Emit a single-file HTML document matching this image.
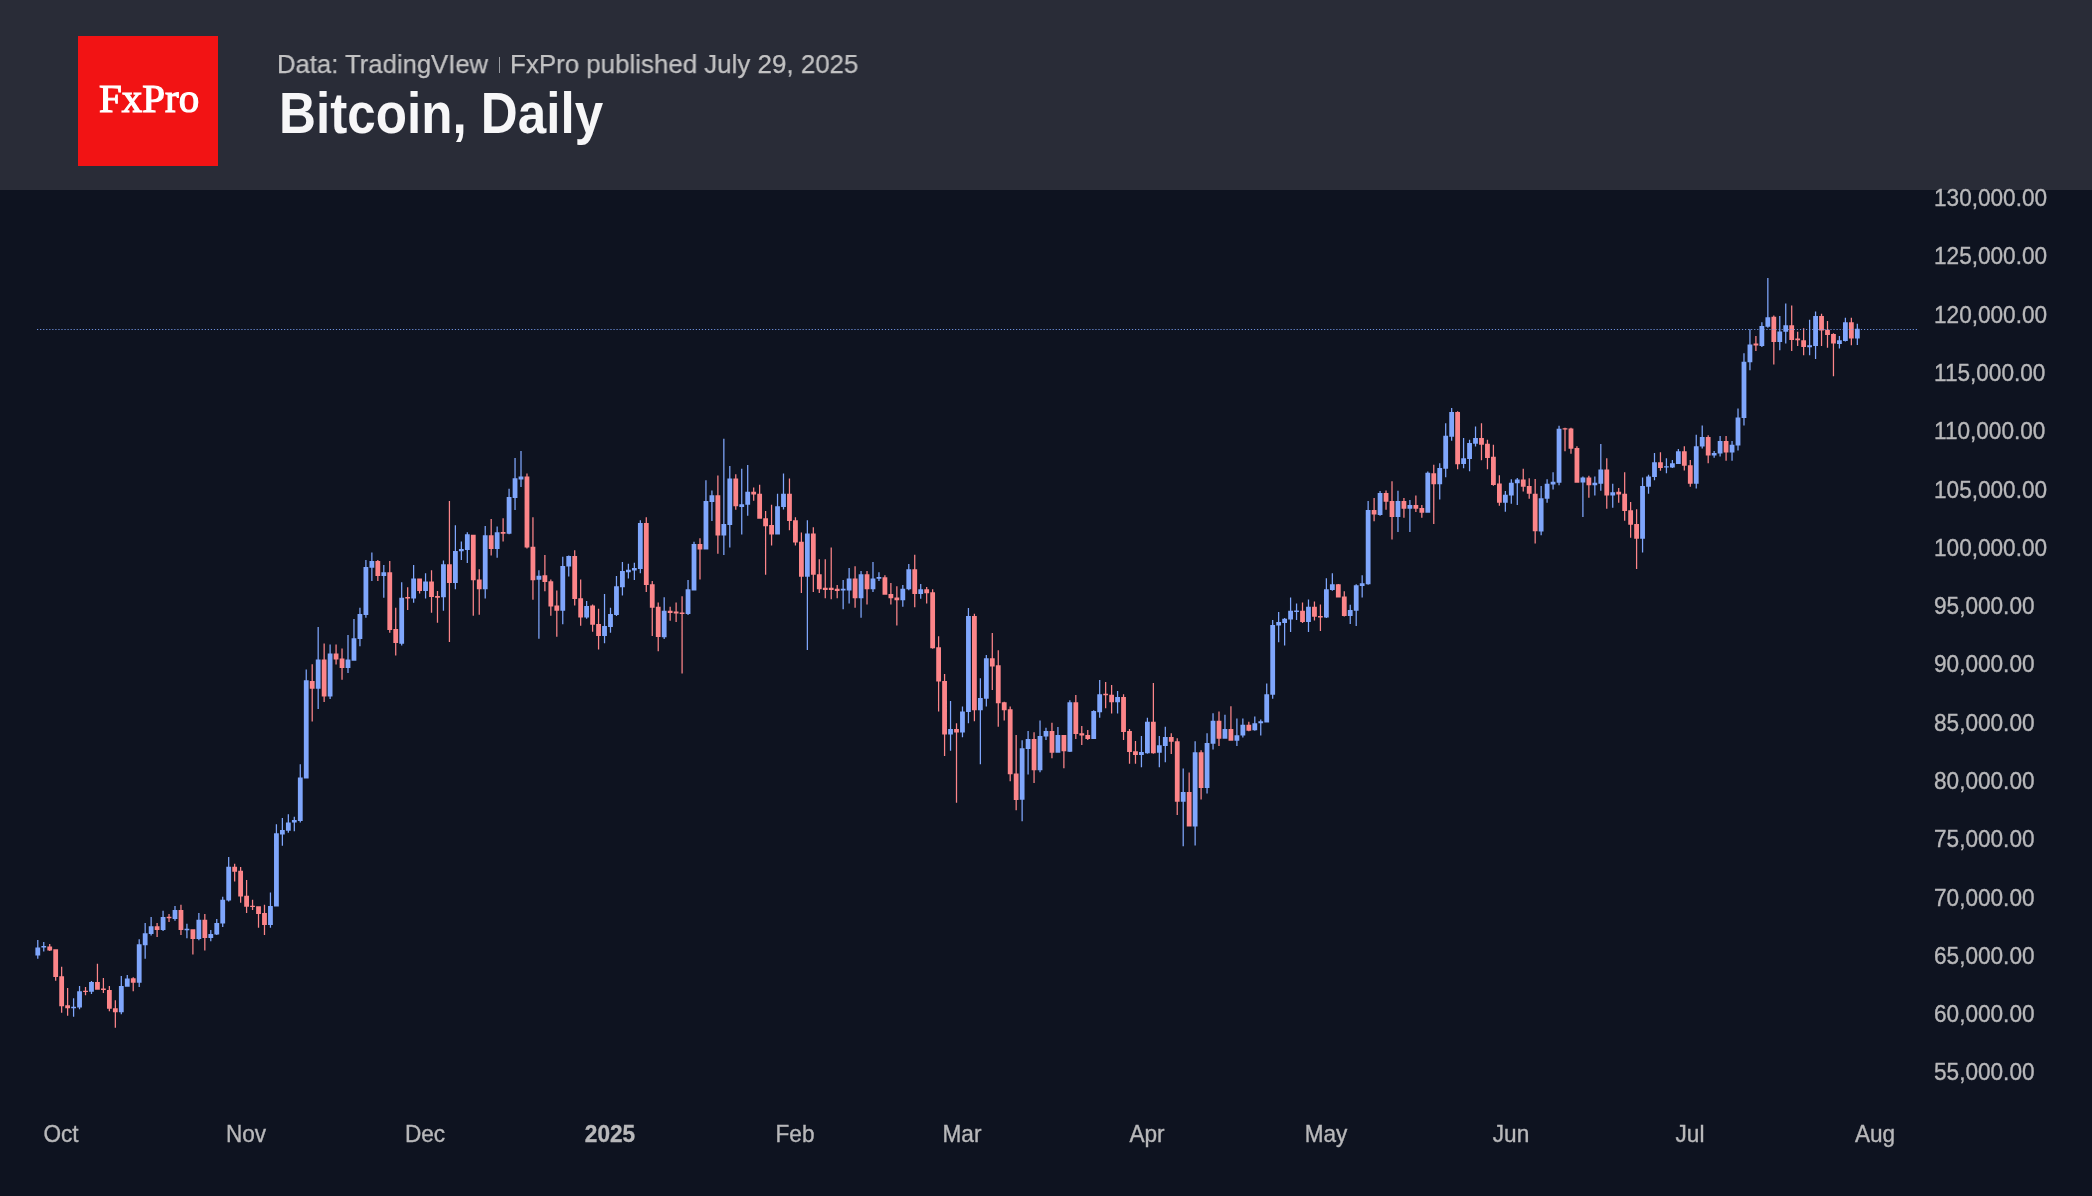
<!DOCTYPE html>
<html><head><meta charset="utf-8">
<style>
html,body{margin:0;padding:0;}
body{width:2092px;height:1196px;background:#0e1320;position:relative;overflow:hidden;font-family:"Liberation Sans",sans-serif;}
.hdr{position:absolute;left:0;top:0;width:2092px;height:189.5px;background:#292c37;}
.logo{position:absolute;left:78px;top:36px;width:140px;height:129.5px;background:#f21314;}
.logo span{position:absolute;left:21.3px;top:36.6px;line-height:50px;color:#fff;font-family:"Liberation Serif",serif;font-weight:normal;font-size:41px;letter-spacing:0px;white-space:nowrap;-webkit-text-stroke:1.2px #fff;will-change:transform;}
.sub{position:absolute;top:47px;font-size:26px;line-height:34px;color:#c2c2c3;white-space:nowrap;transform-origin:0 0;will-change:transform;-webkit-text-stroke:0.25px #c2c2c3;}
.sep{position:absolute;left:499px;top:56.5px;width:1.2px;height:16px;background:#9a9ca2;}
.ttl{position:absolute;left:278.8px;top:78px;font-size:57.3px;line-height:70px;color:#f7f7f8;font-weight:bold;white-space:nowrap;transform:scaleX(0.893);transform-origin:0 0;}
.pl{position:absolute;left:1934px;font-size:22.6px;line-height:26px;color:#b8b8ba;white-space:nowrap;transform:scaleY(1.07);will-change:transform;-webkit-text-stroke:0.35px #b8b8ba;}
.tl{position:absolute;top:1121.5px;width:120px;text-align:center;font-size:22.6px;line-height:26px;color:#b8b8ba;transform:scaleY(1.05);will-change:transform;-webkit-text-stroke:0.35px #b8b8ba;}
.tl.b{font-weight:bold;}
svg{position:absolute;left:0;top:0;}
</style></head><body>
<svg width="2092" height="1196">
<path fill="#7fa6fc" d="M35.39 947.59H40.19V955.62H35.39ZM37.16 940.07H38.41V947.79H37.16ZM37.16 955.42H38.41V958.63H37.16ZM41.35 946.09H46.15V947.49H41.35ZM43.13 942.07H44.38V946.29H43.13ZM43.13 947.29H44.38V951.61H43.13ZM71.18 1006.79H75.98V1008.29H71.18ZM72.96 998.26H74.21V1006.99H72.96ZM72.96 1008.09H74.21V1016.82H72.96ZM77.15 991.24H81.95V1007.49H77.15ZM78.92 986.02H80.17V991.44H78.92ZM78.92 1007.29H80.17V1009.30H78.92ZM89.08 982.01H93.88V991.74H89.08ZM90.85 981.00H92.10V982.21H90.85ZM90.85 991.54H92.10V994.05H90.85ZM118.91 986.02H123.71V1012.31H118.91ZM120.68 975.99H121.93V986.22H120.68ZM120.68 1012.11H121.93V1014.31H120.68ZM124.87 978.39H129.67V986.72H124.87ZM126.65 974.98H127.90V978.59H126.65ZM136.80 944.31H141.60V982.84H136.80ZM138.58 939.36H139.83V944.51H138.58ZM138.58 982.64H139.83V987.12H138.58ZM142.77 933.21H147.57V945.25H142.77ZM144.54 922.91H145.79V933.41H144.54ZM144.54 945.05H145.79V958.63H144.54ZM148.74 926.25H153.54V934.01H148.74ZM150.51 916.89H151.76V926.45H150.51ZM150.51 933.81H151.76V935.62H150.51ZM160.67 916.89H165.47V930.00H160.67ZM162.44 910.87H163.69V917.09H162.44ZM162.44 929.80H163.69V930.94H162.44ZM172.60 909.93H177.40V918.90H172.60ZM174.37 905.92H175.62V910.13H174.37ZM174.37 918.70H175.62V920.64H174.37ZM184.53 928.76H189.33V930.16H184.53ZM186.30 923.85H187.55V928.96H186.30ZM186.30 929.96H187.55V938.29H186.30ZM196.46 919.83H201.26V938.96H196.46ZM198.24 912.88H199.49V920.03H198.24ZM198.24 938.76H199.49V940.30H198.24ZM208.39 934.01H213.19V938.03H208.39ZM210.17 930.00H211.42V934.21H210.17ZM210.17 937.83H211.42V941.24H210.17ZM214.36 922.91H219.16V934.55H214.36ZM216.13 918.90H217.38V923.11H216.13ZM216.13 934.35H217.38V934.95H216.13ZM220.32 899.77H225.12V923.58H220.32ZM222.10 896.82H223.35V899.97H222.10ZM222.10 923.38H223.35V926.92H222.10ZM226.29 866.72H231.09V900.57H226.29ZM228.06 856.96H229.31V866.92H228.06ZM228.06 900.37H229.31V901.51H228.06ZM268.05 905.92H272.85V924.92H268.05ZM269.82 892.54H271.07V906.12H269.82ZM269.82 924.72H271.07V927.86H269.82ZM274.02 833.14H278.82V906.39H274.02ZM275.79 824.36H277.04V833.34H275.79ZM279.98 829.88H284.78V834.40H279.98ZM281.76 818.09H283.01V830.08H281.76ZM281.76 834.20H283.01V845.69H281.76ZM285.95 822.61H290.75V830.64H285.95ZM287.72 814.33H288.97V822.81H287.72ZM287.72 830.44H288.97V832.64H287.72ZM291.91 820.10H296.71V822.61H291.91ZM293.69 816.84H294.94V820.30H293.69ZM293.69 822.41H294.94V831.14H293.69ZM297.88 777.46H302.68V821.10H297.88ZM299.65 764.16H300.90V777.66H299.65ZM299.65 820.90H300.90V822.61H299.65ZM303.84 680.13H308.64V778.46H303.84ZM305.62 669.60H306.87V680.33H305.62ZM315.78 659.60H320.58V688.86H315.78ZM317.55 626.99H318.80V659.80H317.55ZM317.55 688.66H318.80V708.93H317.55ZM327.71 653.41H332.51V696.39H327.71ZM329.48 644.55H330.73V653.61H329.48ZM329.48 696.19H330.73V698.90H329.48ZM345.60 659.60H350.40V667.96H345.60ZM347.38 635.02H348.63V659.80H347.38ZM347.38 667.76H348.63V672.98H347.38ZM351.57 638.36H356.37V660.77H351.57ZM353.34 618.96H354.59V638.56H353.34ZM357.54 613.95H362.33V639.03H357.54ZM359.31 607.76H360.56V614.15H359.31ZM359.31 638.83H360.56V646.22H359.31ZM363.50 567.12H368.30V614.95H363.50ZM365.28 560.10H366.53V567.32H365.28ZM365.28 614.75H366.53V617.79H365.28ZM369.47 560.94H374.27V567.63H369.47ZM371.24 552.58H372.49V561.14H371.24ZM371.24 567.43H372.49V581.00H371.24ZM381.40 572.14H386.20V575.99H381.40ZM383.17 565.12H384.42V572.34H383.17ZM383.17 575.79H384.42V597.73H383.17ZM399.29 597.73H404.09V643.71H399.29ZM401.07 582.17H402.32V597.93H401.07ZM401.07 643.51H402.32V645.38H401.07ZM411.23 578.49H416.03V598.56H411.23ZM413.00 565.12H414.25V578.69H413.00ZM413.00 598.36H414.25V602.74H413.00ZM423.16 581.51H427.96V591.04H423.16ZM424.93 573.14H426.18V581.71H424.93ZM424.93 590.84H426.18V598.56H424.93ZM441.05 564.16H445.85V597.27H441.05ZM442.83 560.48H444.08V564.36H442.83ZM442.83 597.07H444.08V610.70H442.83ZM452.99 550.92H457.79V583.11H452.99ZM454.76 525.17H456.01V551.12H454.76ZM454.76 582.91H456.01V589.36H454.76ZM458.95 548.90H463.75V551.29H458.95ZM460.73 541.54H461.98V549.10H460.73ZM460.73 551.09H461.98V559.93H460.73ZM464.92 534.18H469.72V550.00H464.92ZM466.69 532.34H467.94V534.38H466.69ZM466.69 549.80H467.94V562.88H466.69ZM482.81 535.28H487.61V589.36H482.81ZM484.59 526.09H485.84V535.48H484.59ZM484.59 589.16H485.84V598.56H484.59ZM494.75 532.34H499.55V548.90H494.75ZM496.52 526.45H497.77V532.54H496.52ZM496.52 548.70H497.77V557.73H496.52ZM506.68 497.02H511.48V533.81H506.68ZM508.45 488.75H509.70V497.22H508.45ZM508.45 533.61H509.70V534.18H508.45ZM512.64 478.26H517.44V497.94H512.64ZM514.42 458.03H515.67V478.46H514.42ZM514.42 497.74H515.67V509.90H514.42ZM518.61 476.42H523.41V479.55H518.61ZM520.38 451.04H521.63V476.62H520.38ZM520.38 479.35H521.63V486.91H520.38ZM536.51 575.75H541.31V579.80H536.51ZM538.28 570.23H539.53V575.95H538.28ZM538.28 579.60H539.53V638.66H538.28ZM560.37 566.00H565.17V610.70H560.37ZM562.14 556.81H563.39V566.20H562.14ZM562.14 610.50H563.39V624.31H562.14ZM566.33 555.89H571.13V566.56H566.33ZM568.11 555.52H569.36V556.09H568.11ZM568.11 566.36H569.36V576.49H568.11ZM584.23 605.92H589.03V617.51H584.23ZM586.01 600.95H587.26V606.12H586.01ZM586.01 617.31H587.26V618.80H586.01ZM602.13 626.07H606.93V635.89H602.13ZM603.90 594.09H605.15V626.27H603.90ZM603.90 635.69H605.15V643.21H603.90ZM608.09 613.95H612.89V626.91H608.09ZM609.87 607.68H611.12V614.15H609.87ZM609.87 626.71H611.12V632.76H609.87ZM614.06 586.35H618.86V614.99H614.06ZM615.84 575.90H617.09V586.55H615.84ZM615.84 614.79H617.09V616.04H615.84ZM620.03 571.10H624.83V587.19H620.03ZM621.80 562.11H623.05V571.30H621.80ZM621.80 586.99H623.05V595.55H621.80ZM625.99 569.63H630.79V572.14H625.99ZM627.77 563.78H629.02V569.83H627.77ZM627.77 571.94H629.02V578.41H627.77ZM631.96 567.96H636.76V570.47H631.96ZM633.73 562.73H634.98V568.16H633.73ZM633.73 570.27H634.98V580.08H633.73ZM637.92 523.02H642.72V569.01H637.92ZM639.70 520.30H640.95V523.22H639.70ZM639.70 568.81H640.95V573.19H639.70ZM661.79 610.81H666.59V637.36H661.79ZM663.56 597.22H664.81V611.01H663.56ZM663.56 637.16H664.81V639.03H663.56ZM685.65 589.28H690.45V613.95H685.65ZM687.42 580.08H688.67V589.48H687.42ZM687.42 613.75H688.67V614.99H687.42ZM691.61 543.92H696.41V590.54H691.61ZM693.39 541.83H694.64V544.12H693.39ZM703.55 501.07H708.35V549.57H703.55ZM705.32 480.17H706.57V501.27H705.32ZM709.51 495.22H714.31V502.12H709.51ZM711.29 490.62H712.54V495.42H711.29ZM711.29 501.92H712.54V520.93H711.29ZM721.44 524.06H726.24V535.56H721.44ZM723.22 438.78H724.47V524.26H723.22ZM723.22 535.36H724.47V555.00H723.22ZM727.41 478.49H732.21V525.11H727.41ZM729.18 465.95H730.43V478.69H729.18ZM729.18 524.91H730.43V547.47H729.18ZM739.34 504.21H744.14V506.92H739.34ZM741.11 468.67H742.36V504.41H741.11ZM741.11 506.72H742.36V534.52H741.11ZM745.31 491.66H750.11V504.83H745.31ZM747.08 465.12H748.33V491.86H747.08ZM747.08 504.63H748.33V515.70H747.08ZM775.13 506.30H779.93V534.52H775.13ZM776.91 493.75H778.16V506.50H776.91ZM781.10 493.75H785.90V506.92H781.10ZM782.87 473.48H784.12V493.95H782.87ZM782.87 506.72H784.12V509.43H782.87ZM804.96 533.47H809.76V576.74H804.96ZM806.74 520.30H807.99V533.67H806.74ZM806.74 576.54H807.99V649.90H806.74ZM840.76 588.86H845.56V590.54H840.76ZM842.53 580.08H843.78V589.06H842.53ZM842.53 590.34H843.78V609.35H842.53ZM846.72 578.41H851.52V590.54H846.72ZM848.50 567.96H849.75V578.61H848.50ZM848.50 590.34H849.75V603.49H848.50ZM858.65 574.23H863.45V598.27H858.65ZM860.43 571.10H861.68V574.43H860.43ZM860.43 598.07H861.68V617.71H860.43ZM870.59 578.41H875.39V589.28H870.59ZM872.36 562.11H873.61V578.61H872.36ZM872.36 589.08H873.61V592.00H872.36ZM876.55 576.95H881.35V578.83H876.55ZM878.33 572.14H879.58V577.15H878.33ZM878.33 578.63H879.58V580.92H878.33ZM900.41 588.63H905.21V600.33H900.41ZM902.19 585.12H903.44V588.83H902.19ZM902.19 600.13H903.44V606.66H902.19ZM906.38 569.20H911.18V589.33H906.38ZM908.15 564.05H909.40V569.40H908.15ZM908.15 589.13H909.40V590.27H908.15ZM918.31 589.33H923.11V594.01H918.31ZM920.09 583.95H921.34V589.53H920.09ZM920.09 593.81H921.34V598.70H920.09ZM948.14 729.10H952.94V734.48H948.14ZM949.91 701.00H951.16V729.30H949.91ZM949.91 734.28H951.16V750.87H949.91ZM960.07 711.54H964.87V732.61H960.07ZM961.85 706.39H963.10V711.74H961.85ZM961.85 732.41H963.10V737.29H961.85ZM966.04 616.02H970.84V712.01H966.04ZM967.81 608.06H969.06V616.22H967.81ZM967.81 711.81H969.06V723.24H967.81ZM977.97 697.96H982.77V710.37H977.97ZM979.74 678.29H980.99V698.16H979.74ZM979.74 710.17H980.99V764.21H979.74ZM983.93 658.16H988.73V698.66H983.93ZM985.71 654.88H986.96V658.36H985.71ZM985.71 698.46H986.96V706.39H985.71ZM1019.73 748.29H1024.53V799.63H1019.73ZM1021.50 740.27H1022.75V748.49H1021.50ZM1021.50 799.43H1022.75V821.37H1021.50ZM1025.69 738.93H1030.49V748.96H1025.69ZM1027.47 731.07H1028.72V739.13H1027.47ZM1027.47 748.76H1028.72V774.55H1027.47ZM1037.62 736.09H1042.42V770.37H1037.62ZM1039.40 720.54H1040.65V736.29H1039.40ZM1039.40 770.17H1040.65V772.37H1039.40ZM1043.59 731.07H1048.39V736.59H1043.59ZM1045.37 727.73H1046.62V731.27H1045.37ZM1045.37 736.39H1046.62V739.93H1045.37ZM1055.52 734.92H1060.32V752.81H1055.52ZM1057.30 726.89H1058.55V735.12H1057.30ZM1067.45 702.14H1072.25V751.64H1067.45ZM1069.23 700.13H1070.48V702.34H1069.23ZM1069.23 751.44H1070.48V751.97H1069.23ZM1091.32 711.00H1096.12V738.93H1091.32ZM1093.09 710.17H1094.34V711.20H1093.09ZM1097.28 694.28H1102.08V712.17H1097.28ZM1099.06 680.07H1100.31V694.48H1099.06ZM1099.06 711.97H1100.31V717.69H1099.06ZM1115.18 697.12H1119.98V702.14H1115.18ZM1116.95 690.94H1118.20V697.32H1116.95ZM1116.95 701.94H1118.20V713.51H1116.95ZM1139.04 751.97H1143.84V754.98H1139.04ZM1140.82 736.09H1142.07V752.17H1140.82ZM1140.82 754.78H1142.07V767.36H1140.82ZM1145.01 721.87H1149.81V753.31H1145.01ZM1146.78 717.69H1148.03V722.07H1146.78ZM1146.78 753.11H1148.03V753.65H1146.78ZM1156.94 745.28H1161.74V752.81H1156.94ZM1158.71 736.09H1159.96V745.48H1158.71ZM1158.71 752.61H1159.96V767.36H1158.71ZM1162.90 737.04H1167.70V745.94H1162.90ZM1164.68 726.87H1165.93V737.24H1164.68ZM1164.68 745.74H1165.93V762.14H1164.68ZM1180.80 792.01H1185.60V801.86H1180.80ZM1182.58 768.49H1183.83V792.21H1182.58ZM1182.58 801.66H1183.83V846.34H1182.58ZM1192.73 752.29H1197.53V826.48H1192.73ZM1194.51 741.17H1195.76V752.49H1194.51ZM1194.51 826.28H1195.76V845.54H1194.51ZM1204.66 743.08H1209.46V787.88H1204.66ZM1206.44 733.23H1207.69V743.28H1206.44ZM1206.44 787.68H1207.69V793.60H1206.44ZM1210.63 720.84H1215.43V743.87H1210.63ZM1212.41 713.21H1213.66V721.04H1212.41ZM1212.41 743.67H1213.66V749.43H1212.41ZM1222.56 729.10H1227.36V738.63H1222.56ZM1224.34 714.80H1225.59V729.30H1224.34ZM1234.49 735.13H1239.29V740.69H1234.49ZM1236.27 718.45H1237.52V735.33H1236.27ZM1236.27 740.49H1237.52V745.94H1236.27ZM1240.46 724.81H1245.26V735.45H1240.46ZM1242.23 718.45H1243.48V725.01H1242.23ZM1242.23 735.25H1243.48V737.52H1242.23ZM1252.39 723.22H1257.19V730.37H1252.39ZM1254.17 716.39H1255.42V723.42H1254.17ZM1254.17 730.17H1255.42V730.69H1254.17ZM1258.36 721.15H1263.16V723.22H1258.36ZM1260.13 719.57H1261.38V721.35H1260.13ZM1260.13 723.02H1261.38V735.45H1260.13ZM1264.32 694.15H1269.12V722.42H1264.32ZM1266.10 683.50H1267.35V694.35H1266.10ZM1270.29 624.88H1275.09V694.72H1270.29ZM1272.06 620.07H1273.31V625.08H1272.06ZM1272.06 694.52H1273.31V698.73H1272.06ZM1276.25 622.07H1281.05V625.48H1276.25ZM1278.03 612.04H1279.28V622.27H1278.03ZM1278.03 625.28H1279.28V642.14H1278.03ZM1282.22 618.86H1287.02V622.88H1282.22ZM1283.99 618.06H1285.24V619.06H1283.99ZM1283.99 622.68H1285.24V645.55H1283.99ZM1288.18 610.84H1292.98V619.46H1288.18ZM1289.96 597.39H1291.21V611.04H1289.96ZM1289.96 619.26H1291.21V632.11H1289.96ZM1294.15 610.43H1298.95V612.04H1294.15ZM1295.92 603.41H1297.17V610.63H1295.92ZM1295.92 611.84H1297.17V620.07H1295.92ZM1306.08 606.82H1310.88V622.07H1306.08ZM1307.86 599.40H1309.11V607.02H1307.86ZM1307.86 621.87H1309.11V632.11H1307.86ZM1323.98 589.36H1328.78V617.46H1323.98ZM1325.75 578.33H1327.00V589.56H1325.75ZM1325.75 617.26H1327.00V618.06H1325.75ZM1329.94 584.35H1334.74V589.97H1329.94ZM1331.72 573.31H1332.97V584.55H1331.72ZM1331.72 589.77H1332.97V590.77H1331.72ZM1347.84 610.03H1352.64V616.05H1347.84ZM1349.62 604.82H1350.87V610.23H1349.62ZM1349.62 615.85H1350.87V624.08H1349.62ZM1353.81 585.35H1358.61V610.84H1353.81ZM1355.58 584.35H1356.83V585.55H1355.58ZM1355.58 610.64H1356.83V626.09H1355.58ZM1359.77 583.34H1364.57V585.95H1359.77ZM1361.55 575.32H1362.80V583.54H1361.55ZM1361.55 585.75H1362.80V597.39H1361.55ZM1365.74 510.10H1370.54V584.35H1365.74ZM1367.51 501.07H1368.76V510.30H1367.51ZM1367.51 584.15H1368.76V584.75H1367.51ZM1377.67 493.04H1382.47V515.12H1377.67ZM1379.44 491.04H1380.69V493.24H1379.44ZM1379.44 514.92H1380.69V515.72H1379.44ZM1395.57 500.95H1400.37V517.01H1395.57ZM1397.34 490.65H1398.59V501.15H1397.34ZM1397.34 516.81H1398.59V532.12H1397.34ZM1407.50 504.97H1412.30V508.71H1407.50ZM1409.27 500.02H1410.52V505.17H1409.27ZM1409.27 508.51H1410.52V532.12H1409.27ZM1425.40 472.86H1430.20V512.73H1425.40ZM1427.17 471.52H1428.42V473.06H1427.17ZM1437.33 467.91H1442.13V484.36H1437.33ZM1439.10 463.23H1440.35V468.11H1439.10ZM1439.10 484.16H1440.35V499.62H1439.10ZM1443.29 435.80H1448.09V468.85H1443.29ZM1445.07 423.36H1446.32V436.00H1445.07ZM1445.07 468.65H1446.32V477.27H1445.07ZM1449.26 412.12H1454.06V436.74H1449.26ZM1451.03 408.11H1452.28V412.32H1451.03ZM1451.03 436.54H1452.28V440.75H1451.03ZM1461.19 458.14H1465.99V463.90H1461.19ZM1462.96 438.08H1464.21V458.34H1462.96ZM1462.96 463.70H1464.21V468.31H1462.96ZM1467.16 442.89H1471.96V458.95H1467.16ZM1468.93 439.82H1470.18V443.09H1468.93ZM1468.93 458.75H1470.18V471.25H1468.93ZM1473.12 438.08H1477.92V443.83H1473.12ZM1474.90 426.44H1476.15V438.28H1474.90ZM1474.90 443.63H1476.15V446.51H1474.90ZM1502.95 494.67H1507.75V502.69H1502.95ZM1504.72 491.05H1505.97V494.87H1504.72ZM1504.72 502.49H1505.97V511.66H1504.72ZM1508.92 482.63H1513.72V495.60H1508.92ZM1510.69 479.28H1511.94V482.83H1510.69ZM1510.69 495.40H1511.94V503.63H1510.69ZM1514.88 479.55H1519.68V483.29H1514.88ZM1516.66 477.94H1517.91V479.75H1516.66ZM1516.66 483.09H1517.91V504.97H1516.66ZM1538.74 498.13H1543.54V531.53H1538.74ZM1540.52 486.05H1541.77V498.33H1540.52ZM1540.52 531.33H1541.77V535.37H1540.52ZM1544.71 483.63H1549.51V498.84H1544.71ZM1546.48 479.36H1547.73V483.83H1546.48ZM1546.48 498.64H1547.73V502.68H1546.48ZM1550.67 481.78H1555.48V484.62H1550.67ZM1552.45 472.26H1553.70V481.98H1552.45ZM1552.45 484.42H1553.70V489.60H1552.45ZM1556.64 428.76H1561.44V482.78H1556.64ZM1558.42 425.64H1559.67V428.96H1558.42ZM1558.42 482.58H1559.67V485.33H1558.42ZM1580.50 477.52H1585.30V482.49H1580.50ZM1582.28 476.52H1583.53V477.72H1582.28ZM1582.28 482.29H1583.53V516.89H1582.28ZM1592.43 482.78H1597.23V485.33H1592.43ZM1594.21 476.52H1595.46V482.98H1594.21ZM1594.21 485.13H1595.46V495.57H1594.21ZM1598.40 469.41H1603.20V483.63H1598.40ZM1600.18 444.11H1601.43V469.61H1600.18ZM1600.18 483.43H1601.43V490.74H1600.18ZM1610.33 492.16H1615.13V495.57H1610.33ZM1612.11 483.63H1613.36V492.36H1612.11ZM1612.11 495.37H1613.36V507.79H1612.11ZM1640.16 486.05H1644.96V538.64H1640.16ZM1641.94 477.52H1643.19V486.25H1641.94ZM1641.94 538.44H1643.19V552.42H1641.94ZM1646.13 476.52H1650.93V486.76H1646.13ZM1647.90 474.67H1649.15V476.72H1647.90ZM1647.90 486.56H1649.15V493.86H1647.90ZM1652.09 462.31H1656.89V477.09H1652.09ZM1653.87 452.93H1655.12V462.51H1653.87ZM1653.87 476.89H1655.12V480.36H1653.87ZM1664.02 466.15H1668.82V467.57H1664.02ZM1665.80 458.33H1667.05V466.35H1665.80ZM1665.80 467.37H1667.05V473.25H1665.80ZM1669.99 463.30H1674.79V467.57H1669.99ZM1671.76 460.03H1673.01V463.50H1671.76ZM1671.76 467.37H1673.01V467.99H1671.76ZM1675.95 451.22H1680.75V464.01H1675.95ZM1677.73 449.09H1678.98V451.42H1677.73ZM1693.85 446.25H1698.65V483.63H1693.85ZM1695.63 434.87H1696.88V446.45H1695.63ZM1695.63 483.43H1696.88V488.46H1695.63ZM1699.82 436.89H1704.62V446.42H1699.82ZM1701.59 425.52H1702.84V437.09H1701.59ZM1701.59 446.22H1702.84V448.60H1701.59ZM1711.75 453.11H1716.55V455.62H1711.75ZM1713.52 450.94H1714.77V453.31H1713.52ZM1713.52 455.42H1714.77V457.63H1713.52ZM1717.71 440.90H1722.51V453.61H1717.71ZM1719.49 435.89H1720.74V441.10H1719.49ZM1719.49 453.41H1720.74V456.45H1719.49ZM1729.65 444.75H1734.45V452.61H1729.65ZM1731.42 440.90H1732.67V444.95H1731.42ZM1731.42 452.41H1732.67V460.64H1731.42ZM1735.61 417.49H1740.41V445.59H1735.61ZM1737.39 408.46H1738.64V417.69H1737.39ZM1737.39 445.39H1738.64V450.60H1737.39ZM1741.58 361.64H1746.38V417.99H1741.58ZM1743.35 353.28H1744.60V361.84H1743.35ZM1743.35 417.79H1744.60V425.52H1743.35ZM1747.54 344.41H1752.34V362.31H1747.54ZM1749.32 329.36H1750.57V344.61H1749.32ZM1749.32 362.11H1750.57V370.33H1749.32ZM1759.47 326.02H1764.27V346.09H1759.47ZM1761.25 322.17H1762.50V326.22H1761.25ZM1761.25 345.89H1762.50V346.92H1761.25ZM1765.44 317.16H1770.24V326.86H1765.44ZM1767.22 278.03H1768.47V317.36H1767.22ZM1767.22 326.66H1768.47V327.69H1767.22ZM1777.37 331.54H1782.17V341.91H1777.37ZM1779.15 315.99H1780.40V331.74H1779.15ZM1779.15 341.71H1780.40V350.27H1779.15ZM1783.34 325.18H1788.14V331.87H1783.34ZM1785.11 303.44H1786.36V325.38H1785.11ZM1785.11 331.67H1786.36V343.58H1785.11ZM1807.20 345.25H1812.00V347.26H1807.20ZM1808.98 319.83H1810.23V345.45H1808.98ZM1808.98 347.06H1810.23V355.28H1808.98ZM1813.17 315.99H1817.97V346.09H1813.17ZM1814.94 311.47H1816.19V316.19H1814.94ZM1814.94 345.89H1816.19V358.96H1814.94ZM1837.03 340.23H1841.83V343.91H1837.03ZM1838.80 336.05H1840.05V340.43H1838.80ZM1838.80 343.71H1840.05V348.60H1838.80ZM1842.99 322.17H1847.79V341.07H1842.99ZM1844.77 317.66H1846.02V322.37H1844.77ZM1844.77 340.87H1846.02V341.57H1844.77ZM1854.93 328.86H1859.73V338.56H1854.93ZM1856.70 323.85H1857.95V329.06H1856.70ZM1856.70 338.36H1857.95V344.92H1856.70Z"/><path fill="#fc8589" d="M47.32 946.59H52.12V950.60H47.32ZM49.09 944.08H50.34V946.79H49.09ZM49.09 950.40H50.34V951.10H49.09ZM53.28 949.30H58.08V976.89H53.28ZM55.06 976.69H56.31V980.70H55.06ZM59.25 976.19H64.05V1006.29H59.25ZM61.02 966.66H62.27V976.39H61.02ZM61.02 1006.09H62.27V1012.81H61.02ZM65.22 1005.28H70.02V1008.29H65.22ZM66.99 988.03H68.24V1005.48H66.99ZM66.99 1008.09H68.24V1015.82H66.99ZM83.11 990.69H87.91V992.09H83.11ZM84.89 987.02H86.14V990.89H84.89ZM84.89 991.89H86.14V995.25H84.89ZM95.04 982.01H99.84V989.73H95.04ZM96.82 963.65H98.07V982.21H96.82ZM101.01 988.53H105.81V989.93H101.01ZM102.78 977.99H104.03V988.73H102.78ZM102.78 989.73H104.03V993.04H102.78ZM106.98 990.03H111.78V1008.80H106.98ZM108.75 986.02H110.00V990.23H108.75ZM108.75 1008.60H110.00V1011.30H108.75ZM112.94 1008.29H117.74V1012.31H112.94ZM114.72 1000.27H115.97V1008.49H114.72ZM114.72 1012.11H115.97V1027.86H114.72ZM130.84 978.19H135.64V982.71H130.84ZM132.61 977.19H133.86V978.39H132.61ZM132.61 982.51H133.86V991.24H132.61ZM154.70 926.25H159.50V930.00H154.70ZM156.48 922.91H157.73V926.45H156.48ZM156.48 929.80H157.73V936.96H156.48ZM166.63 916.86H171.43V918.26H166.63ZM168.41 913.95H169.66V917.06H168.41ZM168.41 918.06H169.66V921.97H168.41ZM178.56 909.93H183.36V930.00H178.56ZM180.34 904.85H181.59V910.13H180.34ZM180.34 929.80H181.59V934.95H180.34ZM190.50 929.20H195.30V938.96H190.50ZM192.27 938.76H193.52V954.62H192.27ZM202.43 919.83H207.23V938.03H202.43ZM204.20 913.95H205.45V920.03H204.20ZM204.20 937.83H205.45V950.60H204.20ZM232.26 866.72H237.06V871.67H232.26ZM234.03 863.65H235.28V866.92H234.03ZM234.03 871.47H235.28V881.44H234.03ZM238.22 870.74H243.02V896.56H238.22ZM240.00 867.12H241.25V870.94H240.00ZM240.00 896.36H241.25V902.84H240.00ZM244.19 895.75H248.99V906.86H244.19ZM245.96 880.10H247.21V895.95H245.96ZM245.96 906.66H247.21V912.88H245.96ZM250.15 905.69H254.95V907.09H250.15ZM251.93 899.77H253.18V905.89H251.93ZM251.93 906.89H253.18V909.93H251.93ZM256.12 906.19H260.92V913.95H256.12ZM257.89 913.75H259.14V927.86H257.89ZM262.08 912.88H266.88V924.92H262.08ZM263.86 904.85H265.11V913.08H263.86ZM263.86 924.72H265.11V934.95H263.86ZM309.81 681.00H314.61V688.86H309.81ZM311.58 664.28H312.83V681.20H311.58ZM311.58 688.66H312.83V721.47H311.58ZM321.74 659.60H326.54V696.39H321.74ZM323.52 643.38H324.77V659.80H323.52ZM323.52 696.19H324.77V701.91H323.52ZM333.67 653.41H338.47V659.60H333.67ZM335.45 644.55H336.70V653.61H335.45ZM335.45 659.40H336.70V664.62H335.45ZM339.64 658.43H344.44V667.96H339.64ZM341.41 648.39H342.66V658.63H341.41ZM341.41 667.76H342.66V679.67H341.41ZM375.43 560.94H380.23V575.99H375.43ZM377.21 560.10H378.46V561.14H377.21ZM377.21 575.79H378.46V581.00H377.21ZM387.36 572.14H392.16V630.00H387.36ZM389.14 560.94H390.39V572.34H389.14ZM389.14 629.80H390.39V632.84H389.14ZM393.33 629.00H398.13V642.88H393.33ZM395.10 607.76H396.35V629.20H395.10ZM395.10 642.68H396.35V655.42H395.10ZM405.26 596.89H410.06V598.56H405.26ZM407.04 587.19H408.29V597.09H407.04ZM407.04 598.36H408.29V609.93H407.04ZM417.19 578.49H421.99V591.04H417.19ZM418.97 590.84H420.22V593.55H418.97ZM429.12 581.51H433.92V596.89H429.12ZM430.90 570.13H432.15V581.71H430.90ZM430.90 596.69H432.15V612.78H430.90ZM435.09 596.05H439.89V597.73H435.09ZM436.86 591.04H438.11V596.25H436.86ZM436.86 597.53H438.11V622.81H436.86ZM447.02 564.16H451.82V583.11H447.02ZM448.80 501.07H450.05V564.36H448.80ZM448.80 582.91H450.05V641.97H448.80ZM470.88 534.73H475.68V580.17H470.88ZM472.66 579.97H473.91V615.67H472.66ZM476.85 579.43H481.65V589.36H476.85ZM478.62 569.13H479.87V579.63H478.62ZM478.62 589.16H479.87V614.75H478.62ZM488.78 535.28H493.58V548.90H488.78ZM490.56 519.10H491.81V535.48H490.56ZM490.56 548.70H491.81V555.52H490.56ZM500.71 531.97H505.51V533.81H500.71ZM502.49 518.18H503.74V532.17H502.49ZM502.49 533.61H503.74V541.54H502.49ZM524.57 476.42H529.37V547.61H524.57ZM526.35 473.48H527.60V476.62H526.35ZM526.35 547.41H527.60V548.53H526.35ZM530.54 546.69H535.34V580.17H530.54ZM532.32 517.26H533.57V546.89H532.32ZM532.32 579.97H533.57V599.67H532.32ZM542.47 575.20H547.27V582.01H542.47ZM544.25 554.97H545.50V575.40H544.25ZM544.25 581.81H545.50V591.20H544.25ZM548.44 581.27H553.24V606.47H548.44ZM550.21 579.43H551.46V581.47H550.21ZM550.21 606.27H551.46V615.67H550.21ZM554.40 605.55H559.20V610.70H554.40ZM556.18 590.47H557.43V605.75H556.18ZM556.18 610.50H557.43V636.82H556.18ZM572.30 555.89H577.10V599.11H572.30ZM574.08 550.37H575.33V556.09H574.08ZM574.08 598.91H575.33V605.55H574.08ZM578.27 598.19H583.07V617.51H578.27ZM580.04 579.43H581.29V598.39H580.04ZM580.04 617.31H581.29V625.79H580.04ZM590.20 605.59H595.00V624.82H590.20ZM591.97 604.54H593.22V605.79H591.97ZM591.97 624.62H593.22V631.71H591.97ZM596.16 623.98H600.96V635.89H596.16ZM597.94 608.72H599.19V624.18H597.94ZM597.94 635.69H599.19V649.48H597.94ZM643.89 523.02H648.69V585.10H643.89ZM645.66 517.37H646.91V523.22H645.66ZM645.66 584.90H646.91V592.00H645.66ZM649.85 584.26H654.65V607.68H649.85ZM651.63 580.92H652.88V584.46H651.63ZM651.63 607.48H652.88V635.89H651.63ZM655.82 606.63H660.62V636.94H655.82ZM657.60 602.45H658.85V606.83H657.60ZM657.60 636.74H658.85V651.15H657.60ZM667.75 610.81H672.55V612.90H667.75ZM669.53 606.63H670.78V611.01H669.53ZM669.53 612.70H670.78V620.64H669.53ZM673.72 611.44H678.52V613.53H673.72ZM675.49 602.45H676.74V611.64H675.49ZM675.49 613.33H676.74V621.89H675.49ZM679.68 612.48H684.48V613.95H679.68ZM681.46 596.18H682.71V612.68H681.46ZM681.46 613.75H682.71V673.52H681.46ZM697.58 543.92H702.38V549.57H697.58ZM699.35 538.28H700.60V544.12H699.35ZM699.35 549.37H700.60V579.46H699.35ZM715.48 495.22H720.28V535.56H715.48ZM717.25 475.57H718.50V495.42H717.25ZM717.25 535.36H718.50V553.75H717.25ZM733.37 478.49H738.17V506.30H733.37ZM735.15 474.31H736.40V478.69H735.15ZM735.15 506.10H736.40V509.85H735.15ZM751.27 491.66H756.07V494.38H751.27ZM753.05 487.48H754.30V491.86H753.05ZM753.05 494.18H754.30V500.65H753.05ZM757.24 493.75H762.04V518.84H757.24ZM759.01 484.77H760.26V493.95H759.01ZM763.20 518.21H768.00V526.15H763.20ZM764.98 511.10H766.23V518.41H764.98ZM764.98 525.95H766.23V574.65H764.98ZM769.17 525.11H773.97V534.52H769.17ZM770.94 504.83H772.19V525.31H770.94ZM770.94 534.32H772.19V545.38H770.94ZM787.07 493.75H791.87V520.93H787.07ZM788.84 478.49H790.09V493.95H788.84ZM788.84 520.73H790.09V530.33H788.84ZM793.03 520.30H797.83V542.46H793.03ZM794.81 517.37H796.06V520.50H794.81ZM794.81 542.26H796.06V545.38H794.81ZM799.00 541.83H803.80V576.74H799.00ZM800.77 532.42H802.02V542.03H800.77ZM800.77 576.54H802.02V593.04H800.77ZM810.93 533.47H815.73V574.65H810.93ZM812.70 527.20H813.95V533.67H812.70ZM812.70 574.45H813.95V592.00H812.70ZM816.89 574.23H821.69V589.28H816.89ZM818.67 559.18H819.92V574.43H818.67ZM818.67 589.08H819.92V593.04H818.67ZM822.86 587.82H827.66V589.91H822.86ZM824.63 559.18H825.88V588.02H824.63ZM824.63 589.71H825.88V598.27H824.63ZM828.83 587.82H833.63V589.91H828.83ZM830.60 547.47H831.85V588.02H830.60ZM830.60 589.71H831.85V599.31H830.60ZM834.79 588.86H839.59V590.95H834.79ZM836.57 585.10H837.82V589.06H836.57ZM836.57 590.75H837.82V598.27H836.57ZM852.69 578.41H857.49V598.27H852.69ZM854.46 566.29H855.71V578.61H854.46ZM854.46 598.07H855.71V607.68H854.46ZM864.62 574.23H869.42V589.28H864.62ZM866.39 571.10H867.64V574.43H866.39ZM866.39 589.08H867.64V604.54H866.39ZM882.52 577.37H887.32V594.72H882.52ZM884.29 575.28H885.54V577.57H884.29ZM888.48 594.09H893.28V598.27H888.48ZM890.26 583.01H891.51V594.29H890.26ZM890.26 598.07H891.51V604.54H890.26ZM894.45 597.53H899.25V600.33H894.45ZM896.22 586.29H897.47V597.73H896.22ZM896.22 600.13H897.47V625.38H896.22ZM912.35 569.20H917.15V594.01H912.35ZM914.12 554.68H915.37V569.40H914.12ZM914.12 593.81H915.37V607.36H914.12ZM924.28 589.33H929.08V593.31H924.28ZM926.05 586.99H927.30V589.53H926.05ZM926.05 593.11H927.30V603.38H926.05ZM930.24 592.14H935.04V648.33H930.24ZM932.02 589.33H933.27V592.34H932.02ZM932.02 648.13H933.27V648.80H932.02ZM936.21 647.16H941.01V681.57H936.21ZM937.98 636.15H939.23V647.36H937.98ZM937.98 681.37H939.23V711.54H937.98ZM942.17 681.10H946.97V734.48H942.17ZM943.95 674.08H945.20V681.30H943.95ZM943.95 734.28H945.20V756.02H943.95ZM954.11 729.10H958.90V732.61H954.11ZM955.88 723.24H957.13V729.30H955.88ZM955.88 732.41H957.13V802.84H955.88ZM972.00 616.02H976.80V710.37H972.00ZM973.78 613.68H975.03V616.22H973.78ZM973.78 710.17H975.03V721.37H973.78ZM989.90 658.16H994.70V666.59H989.90ZM991.67 633.11H992.92V658.36H991.67ZM991.67 666.39H992.92V690.00H991.67ZM995.86 665.18H1000.66V703.34H995.86ZM997.64 650.20H998.89V665.38H997.64ZM997.64 703.14H998.89V726.76H997.64ZM1001.83 702.17H1006.63V710.37H1001.83ZM1003.61 701.71H1004.86V702.37H1003.61ZM1003.61 710.17H1004.86V720.43H1003.61ZM1007.80 709.20H1012.60V774.28H1007.80ZM1009.57 706.39H1010.82V709.40H1009.57ZM1009.57 774.08H1010.82V781.30H1009.57ZM1013.76 773.58H1018.56V800.03H1013.76ZM1015.54 734.95H1016.79V773.78H1015.54ZM1015.54 799.83H1016.79V810.33H1015.54ZM1031.66 738.93H1036.46V770.37H1031.66ZM1033.43 732.24H1034.68V739.13H1033.43ZM1033.43 770.17H1034.68V782.91H1033.43ZM1049.56 731.07H1054.36V752.81H1049.56ZM1051.33 722.71H1052.58V731.27H1051.33ZM1051.33 752.61H1052.58V758.33H1051.33ZM1061.49 734.92H1066.29V751.14H1061.49ZM1063.26 750.94H1064.51V768.36H1063.26ZM1073.42 702.14H1078.22V733.91H1073.42ZM1075.19 695.12H1076.44V702.34H1075.19ZM1075.19 733.71H1076.44V738.93H1075.19ZM1079.38 733.24H1084.18V735.59H1079.38ZM1081.16 726.05H1082.41V733.44H1081.16ZM1081.16 735.39H1082.41V744.95H1081.16ZM1085.35 734.92H1090.15V738.93H1085.35ZM1087.13 729.90H1088.38V735.12H1087.13ZM1087.13 738.73H1088.38V739.93H1087.13ZM1103.25 693.83H1108.05V695.23H1103.25ZM1105.02 682.07H1106.27V694.03H1105.02ZM1105.02 695.03H1106.27V708.16H1105.02ZM1109.21 694.78H1114.01V702.14H1109.21ZM1110.99 685.08H1112.24V694.98H1110.99ZM1110.99 701.94H1112.24V713.51H1110.99ZM1121.14 697.12H1125.94V731.91H1121.14ZM1122.92 694.28H1124.17V697.32H1122.92ZM1122.92 731.71H1124.17V739.93H1122.92ZM1127.11 731.07H1131.91V751.97H1127.11ZM1128.89 728.90H1130.14V731.27H1128.89ZM1128.89 751.77H1130.14V763.68H1128.89ZM1133.08 751.14H1137.88V754.98H1133.08ZM1134.85 741.10H1136.10V751.34H1134.85ZM1134.85 754.78H1136.10V763.68H1134.85ZM1150.97 721.87H1155.77V753.31H1150.97ZM1152.75 683.08H1154.00V722.07H1152.75ZM1152.75 753.11H1154.00V753.65H1152.75ZM1168.87 737.04H1173.67V741.81H1168.87ZM1170.65 733.23H1171.90V737.24H1170.65ZM1170.65 741.61H1171.90V753.88H1170.65ZM1174.84 741.17H1179.64V801.86H1174.84ZM1176.61 738.31H1177.86V741.37H1176.61ZM1176.61 801.66H1177.86V814.88H1176.61ZM1186.77 792.01H1191.57V826.48H1186.77ZM1188.54 772.47H1189.79V792.21H1188.54ZM1198.70 752.29H1203.50V787.88H1198.70ZM1200.47 750.23H1201.72V752.49H1200.47ZM1200.47 787.68H1201.72V799.47H1200.47ZM1216.60 720.84H1221.40V738.63H1216.60ZM1218.37 711.62H1219.62V721.04H1218.37ZM1218.37 738.43H1219.62V745.94H1218.37ZM1228.53 729.10H1233.33V740.69H1228.53ZM1230.30 706.22H1231.55V729.30H1230.30ZM1246.42 724.81H1251.22V730.69H1246.42ZM1248.20 721.63H1249.45V725.01H1248.20ZM1248.20 730.49H1249.45V731.16H1248.20ZM1300.12 610.84H1304.92V622.07H1300.12ZM1301.89 602.41H1303.14V611.04H1301.89ZM1301.89 621.87H1303.14V622.88H1301.89ZM1312.05 606.82H1316.85V616.86H1312.05ZM1313.82 601.40H1315.07V607.02H1313.82ZM1313.82 616.66H1315.07V620.47H1313.82ZM1318.01 616.05H1322.81V617.46H1318.01ZM1319.79 604.41H1321.04V616.25H1319.79ZM1319.79 617.26H1321.04V630.90H1319.79ZM1335.91 584.35H1340.71V597.39H1335.91ZM1337.68 583.95H1338.93V584.55H1337.68ZM1341.88 596.39H1346.68V616.05H1341.88ZM1343.65 591.37H1344.90V596.59H1343.65ZM1343.65 615.85H1344.90V616.45H1343.65ZM1371.70 510.10H1376.50V514.52H1371.70ZM1373.48 498.06H1374.73V510.30H1373.48ZM1373.48 514.32H1374.73V521.14H1373.48ZM1383.64 493.04H1388.44V501.67H1383.64ZM1385.41 490.43H1386.66V493.24H1385.41ZM1385.41 501.47H1386.66V509.70H1385.41ZM1389.60 500.95H1394.40V517.01H1389.60ZM1391.38 481.29H1392.63V501.15H1391.38ZM1391.38 516.81H1392.63V539.48H1391.38ZM1401.53 500.95H1406.33V508.71H1401.53ZM1403.31 498.01H1404.56V501.15H1403.31ZM1403.31 508.51H1404.56V517.81H1403.31ZM1413.46 504.97H1418.26V508.71H1413.46ZM1415.24 495.60H1416.49V505.17H1415.24ZM1415.24 508.51H1416.49V512.06H1415.24ZM1419.43 508.04H1424.23V512.73H1419.43ZM1421.20 504.97H1422.45V508.24H1421.20ZM1421.20 512.53H1422.45V517.81H1421.20ZM1431.36 473.26H1436.16V484.36H1431.36ZM1433.14 464.83H1434.39V473.46H1433.14ZM1433.14 484.16H1434.39V524.10H1433.14ZM1455.22 412.12H1460.02V464.30H1455.22ZM1457.00 411.32H1458.25V412.32H1457.00ZM1457.00 464.10H1458.25V469.25H1457.00ZM1479.09 438.08H1483.89V444.77H1479.09ZM1480.86 423.36H1482.11V438.28H1480.86ZM1480.86 444.57H1482.11V460.28H1480.86ZM1485.05 443.83H1489.85V457.88H1485.05ZM1486.83 439.82H1488.08V444.03H1486.83ZM1486.83 457.68H1488.08V469.25H1486.83ZM1491.02 456.81H1495.82V484.90H1491.02ZM1492.79 444.77H1494.04V457.01H1492.79ZM1492.79 484.70H1494.04V485.70H1492.79ZM1496.98 483.56H1501.78V502.69H1496.98ZM1498.76 475.27H1500.01V483.76H1498.76ZM1498.76 502.49H1500.01V505.77H1498.76ZM1520.85 479.55H1525.65V486.64H1520.85ZM1522.62 468.85H1523.87V479.75H1522.62ZM1522.62 486.44H1523.87V491.59H1522.62ZM1526.81 485.97H1531.61V493.73H1526.81ZM1528.59 478.21H1529.84V486.17H1528.59ZM1528.59 493.53H1529.84V498.68H1528.59ZM1532.78 493.73H1537.58V531.19H1532.78ZM1534.55 479.01H1535.80V493.93H1534.55ZM1534.55 530.99H1535.80V543.49H1534.55ZM1562.61 428.19H1567.41V429.62H1562.61ZM1564.38 427.77H1565.63V428.39H1564.38ZM1564.38 429.42H1565.63V451.22H1564.38ZM1568.57 428.48H1573.37V448.66H1568.57ZM1570.35 427.77H1571.60V428.68H1570.35ZM1570.35 448.46H1571.60V453.78H1570.35ZM1574.54 448.09H1579.34V482.78H1574.54ZM1576.31 446.25H1577.56V448.29H1576.31ZM1586.47 477.52H1591.27V485.33H1586.47ZM1588.24 475.67H1589.49V477.72H1588.24ZM1588.24 485.13H1589.49V497.84H1588.24ZM1604.37 469.41H1609.17V495.57H1604.37ZM1606.14 458.33H1607.39V469.61H1606.14ZM1606.14 495.37H1607.39V508.79H1606.14ZM1616.30 491.73H1621.10V494.57H1616.30ZM1618.07 487.89H1619.32V491.93H1618.07ZM1618.07 494.37H1619.32V502.68H1618.07ZM1622.26 493.86H1627.06V510.92H1622.26ZM1624.04 472.26H1625.29V494.06H1624.04ZM1624.04 510.72H1625.29V520.87H1624.04ZM1628.23 510.21H1633.03V524.85H1628.23ZM1630.00 502.11H1631.25V510.41H1630.00ZM1630.00 524.65H1631.25V537.64H1630.00ZM1634.19 524.00H1638.99V538.64H1634.19ZM1635.97 509.21H1637.22V524.20H1635.97ZM1635.97 538.44H1637.22V568.91H1635.97ZM1658.06 462.31H1662.86V467.99H1658.06ZM1659.83 452.36H1661.08V462.51H1659.83ZM1659.83 467.79H1661.08V470.84H1659.83ZM1681.92 451.22H1686.72V465.72H1681.92ZM1683.70 446.25H1684.95V451.42H1683.70ZM1683.70 465.52H1684.95V470.41H1683.70ZM1687.89 465.15H1692.69V483.63H1687.89ZM1689.66 460.03H1690.91V465.35H1689.66ZM1689.66 483.43H1690.91V486.76H1689.66ZM1705.78 436.89H1710.58V455.62H1705.78ZM1707.56 435.22H1708.81V437.09H1707.56ZM1707.56 455.42H1708.81V463.14H1707.56ZM1723.68 440.90H1728.48V452.61H1723.68ZM1725.46 435.89H1726.71V441.10H1725.46ZM1725.46 452.41H1726.71V460.64H1725.46ZM1753.51 343.58H1758.31V345.59H1753.51ZM1755.28 336.05H1756.53V343.78H1755.28ZM1755.28 345.39H1756.53V351.10H1755.28ZM1771.41 316.82H1776.21V341.91H1771.41ZM1773.18 315.48H1774.43V317.02H1773.18ZM1773.18 341.71H1774.43V364.48H1773.18ZM1789.30 325.18H1794.10V339.90H1789.30ZM1791.08 305.45H1792.33V325.38H1791.08ZM1791.08 339.70H1792.33V351.10H1791.08ZM1795.27 338.56H1800.07V340.23H1795.27ZM1797.04 331.87H1798.29V338.76H1797.04ZM1797.04 340.03H1798.29V346.09H1797.04ZM1801.23 340.23H1806.03V346.92H1801.23ZM1803.01 328.19H1804.26V340.43H1803.01ZM1803.01 346.72H1804.26V355.28H1803.01ZM1819.13 315.99H1823.93V330.54H1819.13ZM1820.91 313.81H1822.16V316.19H1820.91ZM1820.91 330.34H1822.16V346.09H1820.91ZM1825.10 329.87H1829.90V334.88H1825.10ZM1826.87 321.00H1828.12V330.07H1826.87ZM1826.87 334.68H1828.12V347.76H1826.87ZM1831.06 333.88H1835.86V343.58H1831.06ZM1832.84 333.21H1834.09V334.08H1832.84ZM1832.84 343.38H1834.09V376.19H1832.84ZM1848.96 322.17H1853.76V338.56H1848.96ZM1850.74 317.66H1851.99V322.37H1850.74ZM1850.74 338.36H1851.99V345.25H1850.74Z"/>
<line x1="37" y1="329.5" x2="1918" y2="329.5" stroke="#7fa6fc" stroke-opacity="0.85" stroke-width="1.1" stroke-dasharray="1.2 1.85"/>
</svg>
<div class="hdr">
<div class="logo"><span>FxPro</span></div>
<div class="sub" id="sub1" style="left:277px;transform:scaleX(0.987)">Data: TradingVIew</div>
<div class="sep"></div>
<div class="sub" id="sub2" style="left:510px;transform:scaleX(0.996)">FxPro published July 29, 2025</div>
<div class="ttl" id="ttl">Bitcoin, Daily</div>
</div>
<div class="pl" style="top:186.1px">130,000.00</div><div class="pl" style="top:244.4px">125,000.00</div><div class="pl" style="top:302.7px">120,000.00</div><div class="pl" style="top:361.0px">115,000.00</div><div class="pl" style="top:419.2px">110,000.00</div><div class="pl" style="top:477.5px">105,000.00</div><div class="pl" style="top:535.8px">100,000.00</div><div class="pl" style="top:594.1px">95,000.00</div><div class="pl" style="top:652.4px">90,000.00</div><div class="pl" style="top:710.6px">85,000.00</div><div class="pl" style="top:768.9px">80,000.00</div><div class="pl" style="top:827.2px">75,000.00</div><div class="pl" style="top:885.5px">70,000.00</div><div class="pl" style="top:943.8px">65,000.00</div><div class="pl" style="top:1002.0px">60,000.00</div><div class="pl" style="top:1060.3px">55,000.00</div>
<div class="tl" style="left:1.4px">Oct</div><div class="tl" style="left:186.3px">Nov</div><div class="tl" style="left:365.3px">Dec</div><div class="tl b" style="left:550.2px">2025</div><div class="tl" style="left:735.1px">Feb</div><div class="tl" style="left:902.2px">Mar</div><div class="tl" style="left:1087.1px">Apr</div><div class="tl" style="left:1266.1px">May</div><div class="tl" style="left:1451.0px">Jun</div><div class="tl" style="left:1630.0px">Jul</div><div class="tl" style="left:1814.9px">Aug</div>
</body></html>
